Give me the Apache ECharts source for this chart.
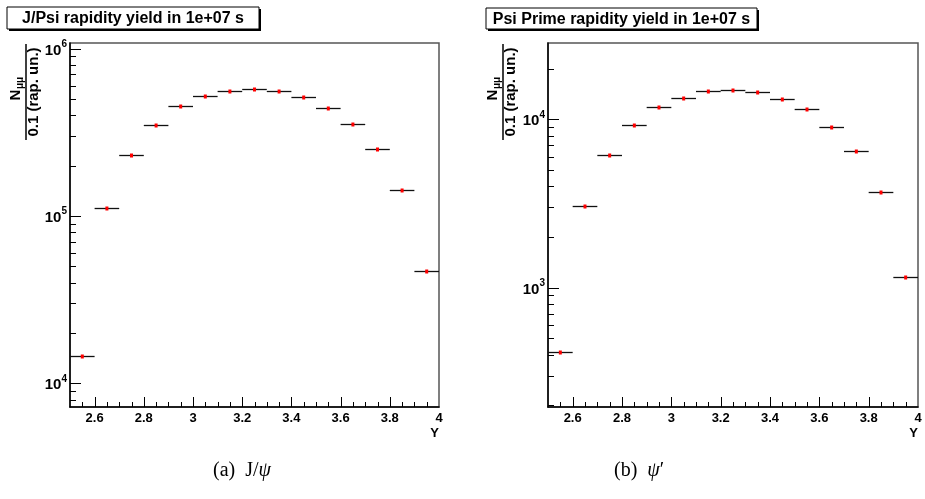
<!DOCTYPE html>
<html><head><meta charset="utf-8">
<script src="https://cdn.jsdelivr.net/npm/echarts@6/dist/echarts.min.js"></script>
<style>html,body{margin:0;padding:0;background:#fff}#c{width:925px;height:499px}</style>
</head><body><div id="c"></div>
<script>
// ---- data ----
const rapidityBins = [2.55, 2.65, 2.75, 2.85, 2.95, 3.05, 3.15, 3.25, 3.35, 3.45, 3.55, 3.65, 3.75, 3.85, 3.95];
const jpsiYield = [14570, 111200, 230900, 347300, 451200, 521000, 560500, 573800, 555100, 510900, 439000, 354100, 251900, 143700, 46860];
const psiPrimeYield = [413, 3069, 6163, 9212, 11830, 13440, 14730, 14930, 14530, 13250, 11470, 8965, 6457, 3685, 1157];
const binHalfWidth = 0.05;
const xRange = [2.5, 4];
const xTickLabels = ['2.6', '2.8', '3', '3.2', '3.4', '3.6', '3.8', '4'];
const jpsiYRange = [7217, 1.0786e6];
const psiYRange = [195.7, 28390];
const titles = ['J/Psi rapidity yield in 1e+07 s', 'Psi Prime rapidity yield in 1e+07 s'];
const captions = [['(a)', 'J/', 'ψ', ''], ['(b)', '', 'ψ', '′']];

const FONT = 'Liberation Sans, Arial, Helvetica, sans-serif';
const SERIF = 'Liberation Serif, DejaVu Serif, serif';
const grids = [
  { left: 70, top: 43, width: 369, height: 364 },
  { left: 548, top: 43, width: 370, height: 364 }
];

function xTicks() {
  const out = [];
  for (let i = 1; i < 30; i++) {
    const v = +(xRange[0] + i * 0.05).toFixed(2);
    const major = Math.abs(v * 5 - Math.round(v * 5)) < 1e-6;
    out.push([v, 0, major ? 10 : 5]);
  }
  return out;
}
function yTicks(range) {
  const out = [];
  const d0 = Math.floor(Math.log10(range[0])), d1 = Math.ceil(Math.log10(range[1]));
  for (let d = d0; d <= d1; d++) {
    for (let m = 1; m <= 9; m++) {
      const v = m * Math.pow(10, d);
      if (v > range[0] && v < range[1]) out.push([xRange[0], v, m === 1 ? 11 : 6]);
    }
  }
  return out;
}

function xAxisCfg(gi) {
  return {
    type: 'value', gridIndex: gi, min: xRange[0], max: xRange[1], interval: 0.1,
    axisLine: { show: true, lineStyle: { color: '#000', width: 1.5 } },
    axisTick: { show: false }, splitLine: { show: false },
    axisLabel: {
      margin: 5, color: '#000', fontFamily: FONT, fontWeight: 'bold', fontSize: 13,
      showMinLabel: true, showMaxLabel: true,
      formatter: v => { const s = String(+(+v).toFixed(2)); return xTickLabels.includes(s) ? s : ''; }
    }
  };
}
function yAxisCfg(gi, range) {
  return {
    type: 'log', logBase: 10, gridIndex: gi, min: range[0], max: range[1],
    axisLine: { show: true, lineStyle: { color: '#000', width: 1.5 } },
    axisTick: { show: false }, splitLine: { show: false },
    axisLabel: {
      margin: 3, color: '#000',
      formatter: v => {
        const e = Math.log10(v);
        if (Math.abs(e - Math.round(e)) > 1e-6) return '';
        return '{b|10}{s|' + Math.round(e) + '}';
      },
      rich: {
        b: { fontFamily: FONT, fontWeight: 'bold', fontSize: 15, color: '#000', padding: [4, 0, 0, 0], verticalAlign: 'bottom' },
        s: { fontFamily: FONT, fontWeight: 'bold', fontSize: 10, color: '#000', verticalAlign: 'top' }
      }
    }
  };
}

function tickSeries(xi, data, vertical) {
  return {
    type: 'custom', xAxisIndex: xi, yAxisIndex: xi, silent: true, clip: false, z: 5,
    encode: { x: 0, y: 1 },
    data: data,
    renderItem: (params, api) => {
      const len = api.value(2);
      if (vertical) {
        const p = api.coord([api.value(0), (xi === 0 ? jpsiYRange : psiYRange)[0]]);
        const x = Math.round(p[0]) + 0.5;
        return { type: 'line', shape: { x1: x, y1: p[1], x2: x, y2: p[1] - len }, style: { stroke: '#000', lineWidth: 1 } };
      }
      const p = api.coord([xRange[0], api.value(1)]);
      const y = Math.round(p[1]) + 0.5;
      return { type: 'line', shape: { x1: p[0], y1: y, x2: p[0] + len, y2: y }, style: { stroke: '#000', lineWidth: 1 } };
    }
  };
}
function dataSeries(xi, values) {
  return {
    type: 'custom', xAxisIndex: xi, yAxisIndex: xi, z: 10,
    encode: { x: 0, y: 1 },
    data: rapidityBins.map((x, i) => [x, values[i]]),
    renderItem: (params, api) => {
      const x = api.value(0), y = api.value(1);
      const c = api.coord([x, y]);
      const l = api.coord([x - binHalfWidth, y]);
      const r = api.coord([x + binHalfWidth, y]);
      const yy = Math.round(c[1]) + 0.5;
      return {
        type: 'group', children: [
          { type: 'line', shape: { x1: l[0], y1: yy, x2: r[0], y2: yy }, style: { stroke: '#111', lineWidth: 1.3 } },
          { type: 'rect', shape: { x: c[0] - 1.5, y: yy - 2, width: 3, height: 4 }, style: { fill: '#ff0000' } }
        ]
      };
    }
  };
}

function titleBox(x, y, w, h, text) {
  return [
    { type: 'rect', shape: { x: x + 2, y: y + 2, width: w, height: h }, style: { fill: '#000' }, z: 20 },
    { type: 'rect', shape: { x: x, y: y, width: w, height: h }, style: { fill: '#fff', stroke: '#000', lineWidth: 1 }, z: 21 },
    { type: 'text', x: x + w / 2, y: y + h / 2 + 1, z: 22,
      style: { text: text, fill: '#000', font: 'bold 16px ' + FONT, align: 'center', verticalAlign: 'middle' } }
  ];
}
function yTitle(cx, cy) {
  return {
    type: 'group', x: cx, y: cy, rotation: Math.PI / 2, z: 20,
    children: [
      { type: 'line', shape: { x1: -48, y1: 0, x2: 48, y2: 0 }, style: { stroke: '#000', lineWidth: 1.5 } },
      { type: 'text', x: -3, y: -10, style: { text: 'N', fill: '#000', font: 'bold 15px ' + FONT, align: 'center', verticalAlign: 'middle' } },
      { type: 'text', x: 9, y: -6, style: { text: 'μμ', fill: '#000', font: 'bold 10px ' + FONT, align: 'center', verticalAlign: 'middle' } },
      { type: 'text', x: 0, y: 8, style: { text: '0.1 (rap. un.)', fill: '#000', font: 'bold 15px ' + FONT, align: 'center', verticalAlign: 'middle' } }
    ]
  };
}
function caption(x, y, parts) {
  return {
    type: 'text', x: x, y: y, z: 20,
    style: {
      text: '{n|' + parts[0] + '  ' + parts[1] + '}{i|' + parts[2] + '}' + (parts[3] ? '{n|' + parts[3] + '}' : ''),
      verticalAlign: 'middle',
      rich: {
        n: { fontFamily: SERIF, fontSize: 20, fill: '#000' },
        i: { fontFamily: SERIF, fontSize: 20, fontStyle: 'italic', fill: '#000' }
      }
    }
  };
}

const chart = echarts.init(document.getElementById('c'), null, { renderer: 'canvas' });
chart.setOption({
  animation: false,
  backgroundColor: '#fff',
  grid: grids.map(g => Object.assign({ show: true, borderColor: '#555', borderWidth: 1.5, backgroundColor: 'transparent' }, g)),
  xAxis: [xAxisCfg(0), xAxisCfg(1)],
  yAxis: [yAxisCfg(0, jpsiYRange), yAxisCfg(1, psiYRange)],
  series: [
    tickSeries(0, xTicks(), true),
    tickSeries(1, xTicks(), true),
    tickSeries(0, yTicks(jpsiYRange), false),
    tickSeries(1, yTicks(psiYRange), false),
    dataSeries(0, jpsiYield),
    dataSeries(1, psiPrimeYield)
  ],
  graphic: [
    ...titleBox(7, 7, 252, 22, titles[0]),
    ...titleBox(486, 8, 271, 21, titles[1]),
    yTitle(26, 92),
    yTitle(503, 92),
    { type: 'text', x: 439, y: 433, z: 20, style: { text: 'Y', fill: '#000', font: 'bold 13px ' + FONT, align: 'right', verticalAlign: 'middle' } },
    { type: 'text', x: 918, y: 433, z: 20, style: { text: 'Y', fill: '#000', font: 'bold 13px ' + FONT, align: 'right', verticalAlign: 'middle' } },
    caption(213, 471, captions[0]),
    caption(614, 471, captions[1])
  ]
});
</script></body></html>
